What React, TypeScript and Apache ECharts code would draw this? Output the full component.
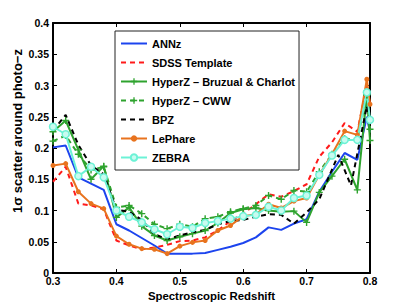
import React, { useEffect, useRef } from "react";
import * as echarts from "echarts";

const xGrid = [0.3, 0.32, 0.34, 0.36, 0.38, 0.4, 0.42, 0.44, 0.46, 0.48, 0.5, 0.52, 0.54, 0.56, 0.58, 0.6, 0.62, 0.64, 0.66, 0.68, 0.7, 0.72, 0.74, 0.76, 0.78, 0.795, 0.8];
const bpzX = [0.3, 0.32, 0.34, 0.36, 0.38, 0.4, 0.42, 0.44, 0.46, 0.48, 0.5, 0.52, 0.54, 0.56, 0.58, 0.6, 0.62, 0.64, 0.66, 0.68, 0.7, 0.72, 0.75, 0.77, 0.795, 0.8];

const annz = [0.201, 0.204, 0.153, 0.143, 0.133, 0.078, 0.068, 0.056, 0.044, 0.031, 0.031, 0.031, 0.032, 0.037, 0.042, 0.048, 0.057, 0.073, 0.069, 0.079, 0.086, 0.13, 0.162, 0.192, 0.181, 0.25, 0.225];
const sdss = [0.146, 0.17, 0.111, 0.108, 0.102, 0.052, 0.044, 0.038, 0.041, 0.045, 0.051, 0.052, 0.057, 0.068, 0.083, 0.095, 0.11, 0.126, 0.122, 0.131, 0.142, 0.186, 0.209, 0.24, 0.226, 0.3, 0.27];
const hyperzBC = [0.226, 0.244, 0.197, 0.15, 0.171, 0.089, 0.105, 0.075, 0.06, 0.052, 0.058, 0.063, 0.068, 0.08, 0.096, 0.102, 0.104, 0.1, 0.098, 0.099, 0.081, 0.129, 0.155, 0.182, 0.133, 0.285, 0.212];
const hyperzCWW = [0.211, 0.22, 0.19, 0.165, 0.17, 0.105, 0.108, 0.095, 0.078, 0.071, 0.078, 0.074, 0.087, 0.09, 0.098, 0.103, 0.108, 0.124, 0.118, 0.132, 0.13, 0.162, 0.19, 0.215, 0.213, 0.285, 0.23];
const bpz = [0.228, 0.253, 0.205, 0.172, 0.158, 0.101, 0.098, 0.085, 0.062, 0.054, 0.06, 0.065, 0.069, 0.078, 0.083, 0.085, 0.09, 0.094, 0.093, 0.079, 0.097, 0.118, 0.189, 0.14, 0.267, 0.24];
const lephare = [0.172, 0.175, 0.13, 0.111, 0.103, 0.059, 0.046, 0.039, 0.038, 0.031, 0.043, 0.049, 0.052, 0.068, 0.076, 0.091, 0.094, 0.11, 0.104, 0.115, 0.12, 0.157, 0.19, 0.227, 0.221, 0.31, 0.27];
const zebra = [0.234, 0.222, 0.155, 0.17, 0.153, 0.1, 0.09, 0.081, 0.07, 0.062, 0.074, 0.072, 0.08, 0.083, 0.087, 0.091, 0.093, 0.106, 0.1, 0.12, 0.124, 0.157, 0.188, 0.213, 0.213, 0.289, 0.245];

const seriesNames = ["ANNz", "SDSS Template", "HyperZ \u2013 Bruzual & Charlot", "HyperZ \u2013 CWW", "BPZ", "LePhare", "ZEBRA"];
const noMarker = [true, true, false, false, true, false, false];

const FONT = "'Liberation Sans', Arial, Helvetica, sans-serif";
const PLUS = "path://M4,0H6V4H10V6H6V10H4V6H0V4H4Z";

const pairs = (xs: number[], ys: number[]) => ys.map((y, i) => [xs[i], y]);
const fmt = (v: number) => String(Number(v.toFixed(2)));

export default function App() {
  const ref = useRef<HTMLDivElement>(null);
  useEffect(() => {
    if (!ref.current) return;
    const chart = echarts.init(ref.current, undefined, { renderer: "svg" });
    const axisLine = { show: true, onZero: false, lineStyle: { color: "#000", width: 2 } };
    const tick = { show: true, inside: true, length: 4, lineStyle: { color: "#000", width: 1 } };
    const label = { color: "#000", fontWeight: "bold" as const, fontSize: 10.5, fontFamily: FONT };
    const base = (name: string, data: number[][], color: string, dashed: boolean, symbol: string, symbolSize: number, itemStyle: any) => ({
      name,
      type: "line",
      data,
      clip: true,
      symbol,
      symbolSize,
      showSymbol: symbol !== "none",
      lineStyle: { color, width: 2, type: dashed ? [5, 4] : "solid" },
      itemStyle: { color, ...itemStyle },
      emphasis: { disabled: true },
    });
    chart.setOption({
      animation: false,
      backgroundColor: "#fff",
      grid: { left: 53, right: 39, top: 23, bottom: 34, containLabel: false },
      legend: {
        orient: "vertical",
        left: 115,
        top: 31,
        data: seriesNames.map((n, i) => (noMarker[i] ? { name: n, itemStyle: { opacity: 0 } } : { name: n })),
        itemWidth: 26,
        itemHeight: 8,
        itemGap: 8,
        padding: [7, 4, 7, 5],
        backgroundColor: "#fff",
        borderColor: "#222",
        borderWidth: 1,
        borderRadius: 0,
        textStyle: { color: "#000", fontWeight: "bold", fontSize: 11, fontFamily: FONT },
        selectedMode: false,
      },
      xAxis: [
        {
          type: "value", min: 0.3, max: 0.8, interval: 0.1, position: "bottom",
          axisLine, axisTick: tick, splitLine: { show: false },
          axisLabel: { ...label, margin: 2, formatter: fmt },
          name: "Spectroscopic Redshift", nameLocation: "middle", nameGap: 16,
          nameTextStyle: { color: "#000", fontWeight: "bold", fontSize: 11.4, fontFamily: FONT },
        },
        {
          type: "value", min: 0.3, max: 0.8, interval: 0.1, position: "top",
          axisLine, axisTick: tick, splitLine: { show: false }, axisLabel: { show: false },
        },
      ],
      yAxis: [
        {
          type: "value", min: 0, max: 0.4, interval: 0.05, position: "left",
          axisLine, axisTick: tick, splitLine: { show: false },
          axisLabel: { ...label, margin: 4, formatter: fmt },
        },
        {
          type: "value", min: 0, max: 0.4, interval: 0.05, position: "right",
          axisLine, axisTick: tick, splitLine: { show: false }, axisLabel: { show: false },
        },
      ],
      graphic: [
        {
          type: "text",
          x: 17,
          y: 131,
          rotation: Math.PI / 2,
          style: {
            text: "1\u03c3 scatter around photo\u2212z",
            fill: "#000",
            font: `bold 13px ${FONT}`,
            align: "center",
            verticalAlign: "middle",
          },
        },
      ],
      series: [
        base(seriesNames[0], pairs(xGrid, annz), "#1c44ee", false, "none", 0, {}),
        base(seriesNames[1], pairs(xGrid, sdss), "#ff1a1a", true, "none", 0, {}),
        base(seriesNames[2], pairs(xGrid, hyperzBC), "#2ea32e", false, PLUS, 7, {}),
        base(seriesNames[3], pairs(xGrid, hyperzCWW), "#2ea32e", true, PLUS, 7, {}),
        base(seriesNames[4], pairs(bpzX, bpz), "#000000", true, "none", 0, {}),
        base(seriesNames[5], pairs(xGrid, lephare), "#e8731e", false, "circle", 5, {}),
        base(seriesNames[6], pairs(xGrid, zebra), "#6cf2d6", false, "circle", 7, { color: "#c8fbef", borderColor: "#6cf2d6", borderWidth: 1.5 }),
      ],
    });
    return () => chart.dispose();
  }, []);
  return <div ref={ref} style={{ width: 409, height: 307, position: "fixed", left: 0, top: 0 }} />;
}
